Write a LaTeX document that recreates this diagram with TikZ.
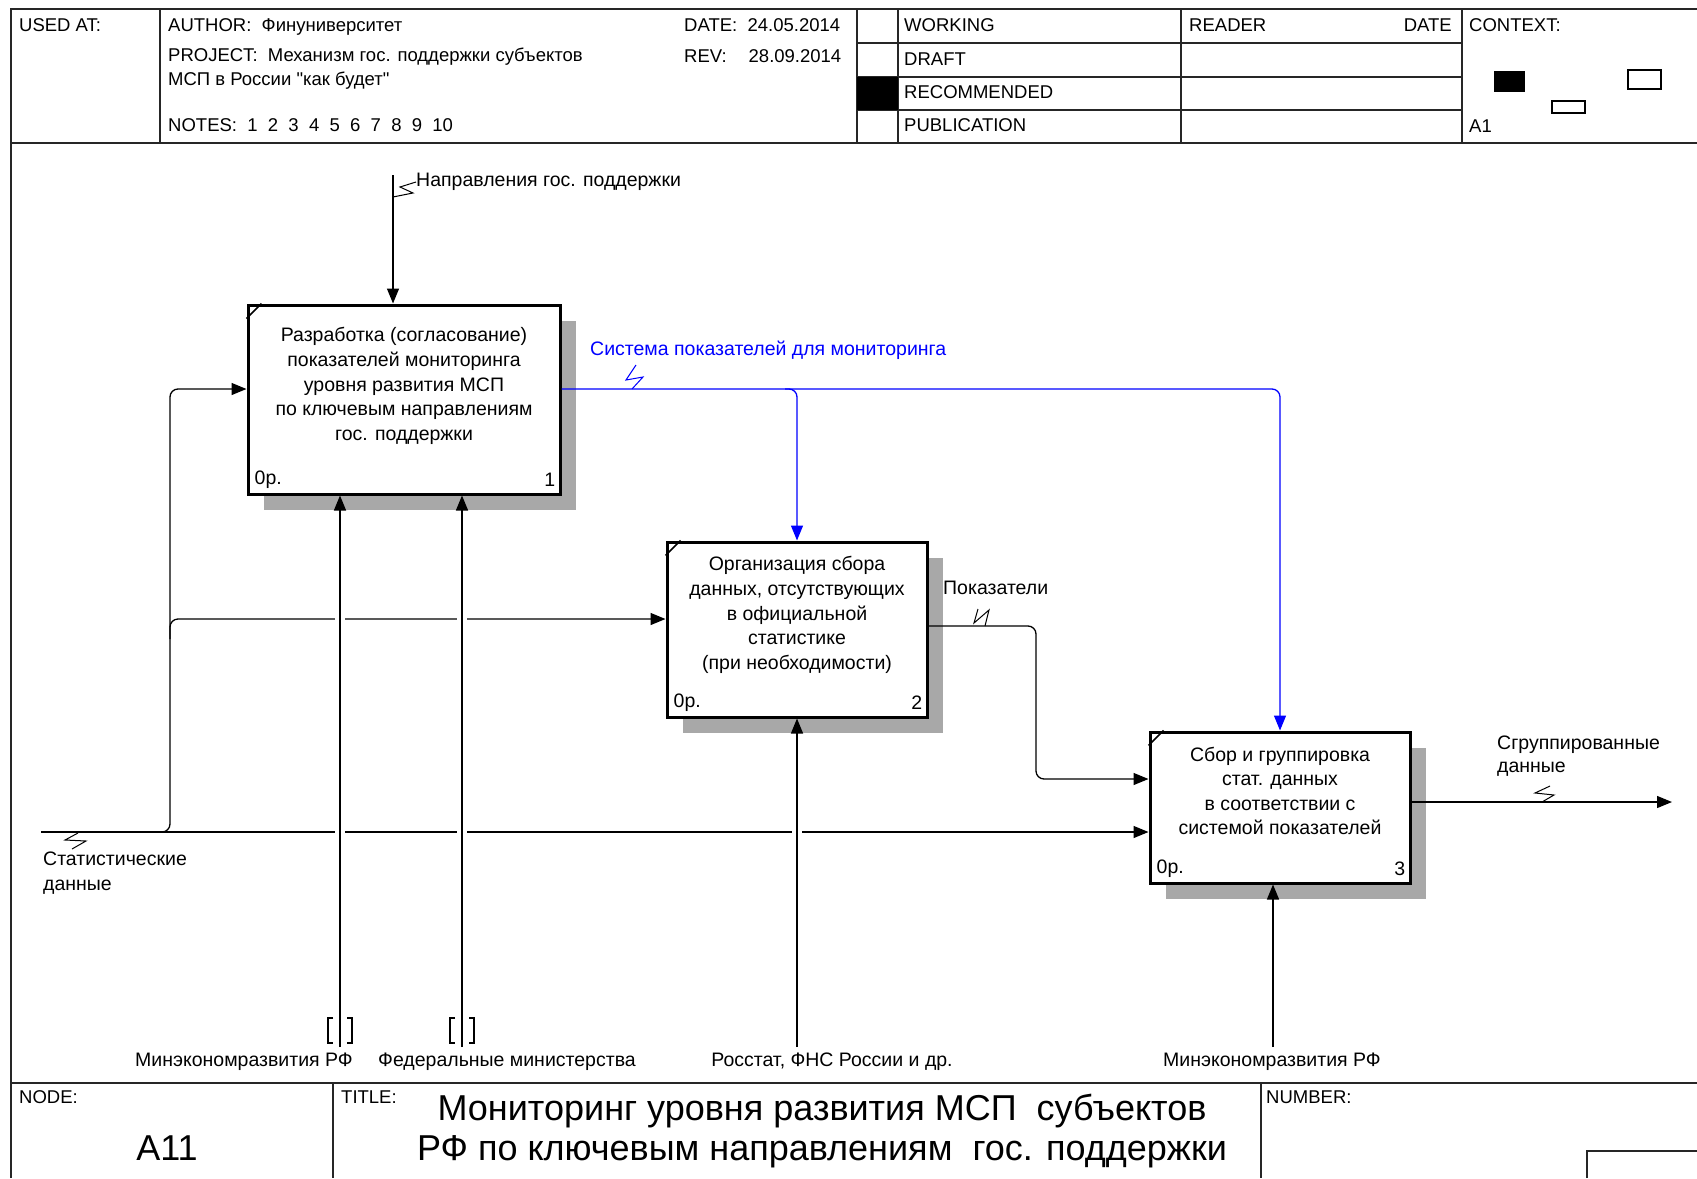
\documentclass[tikz,border=0pt]{standalone}
\usepackage{fontspec}
\setmainfont{Liberation Sans}[Ligatures=TeXOff]
\usetikzlibrary{arrows.meta,calc,shadows}
\definecolor{idefblue}{RGB}{0,0,255}
\definecolor{shadowgray}{RGB}{168,168,168}
\begin{document}
\begin{tikzpicture}[x=1pt,y=-1pt,
  frame/.style={line width=2pt, draw=black!85},
  func/.style={draw, line width=3pt, fill=white, inner sep=0pt,
    drop shadow={shadow xshift=16pt, shadow yshift=-16pt, fill=shadowgray, opacity=1}},
  arr/.style={draw, line width=1.3pt, -{Triangle[length=15pt,width=12pt]}},
  barr/.style={arr, draw=idefblue},
  gap/.style={draw=white, line width=4pt},
  sq/.style={draw, line width=1pt},
  lbl/.style={inner sep=0pt, font=\fontsize{19.5}{24.6}\selectfont},
  hdr/.style={inner sep=0pt, anchor=west, font=\fontsize{18.5}{22}\selectfont},
  big/.style={inner sep=0pt, font=\fontsize{36}{40}\selectfont}]
\useasboundingbox (0,0) rectangle (1697,1178);

% ---------- frame and header ----------
\draw[frame] (11,1178) -- (11,9) -- (1697,9);
\draw[frame] (11,143) -- (1697,143);
\foreach \x in {160,857,898,1181,1462} \draw[frame] (\x,9) -- (\x,143);
\foreach \y in {43,77,110} \draw[frame] (857,\y) -- (1462,\y);
\fill (857,77) rectangle (898,110);
\fill (1494,71) rectangle (1525,92);
\draw[line width=1.5pt] (1628,70) rectangle (1661,89);
\draw[line width=1.5pt] (1552,101) rectangle (1585,113);

\node[hdr] (usedat) at (19,25) {USED AT:};
\node[hdr] (author) at (168,27) {AUTHOR:\ \ Финуниверситет};
\node[hdr] (project) at (168,57) {PROJECT:\ \ Механизм гос. поддержки субъектов};
\node[hdr] (project2) at (168,81) {МСП в России "как будет"};
\node[hdr] (notes) at (168,125) {NOTES:\ \ 1\ \ 2\ \ 3\ \ 4\ \ 5\ \ 6\ \ 7\ \ 8\ \ 9\ \ 10};
\node[hdr] (date) at (684,25) {DATE:\ \ 24.05.2014};
\node[hdr] (rev) at (684,56) {REV:\hspace{22pt}28.09.2014};
\node[hdr] (working) at (904,25) {WORKING};
\node[hdr] (draft) at (904,59) {DRAFT};
\node[hdr] (recom) at (904,92) {RECOMMENDED};
\node[hdr] (publ) at (904,125) {PUBLICATION};
\node[hdr] (reader) at (1189,25) {READER};
\node[hdr, anchor=east] (rdate) at (1452,25) {DATE};
\node[hdr] (context) at (1469,25) {CONTEXT:};
\node[hdr] (a1) at (1469,126) {A1};

% ---------- footer ----------
\draw[frame] (11,1083) -- (1697,1083);
\draw[frame] (333,1083) -- (333,1178);
\draw[frame] (1261,1083) -- (1261,1178);
\draw[frame] (1587,1178) -- (1587,1151) -- (1697,1151);
\node[hdr] (nodel) at (19,1097) {NODE:};
\node[hdr] (titlel) at (341,1097) {TITLE:};
\node[hdr] (numberl) at (1266,1097) {NUMBER:};
\node[big] (nodenum) at (167,1148) {A11};
\node[big, align=center] (title) at (822,1131) {Мониторинг уровня развития МСП~ субъектов\\РФ по ключевым направлениям~ гос. поддержки};

% ---------- activity boxes ----------
\node[func, minimum width=312pt, minimum height=189pt] (b1) at (404,399.5) {};
\node[func, minimum width=260pt, minimum height=175pt] (b2) at (797,629.5) {};
\node[func, minimum width=260pt, minimum height=151pt] (b3) at (1280,807.5) {};

\node[lbl, align=center] (t1) at (404,386) {Разработка (согласование)\\показателей мониторинга\\уровня развития МСП\\по ключевым направлениям\\гос. поддержки};
\node[lbl, align=center] (t2) at (797,615) {Организация сбора\\данных, отсутствующих\\в официальной\\статистике\\(при необходимости)};
\node[lbl, align=center] (t3) at (1280,791) {Сбор и группировка\\стат. данных\\в соответствии с\\системой показателей};

\foreach \b/\n in {b1/1,b2/2,b3/3}{
  \draw[line width=1.5pt] ($(\b.north west)+(0,15)$) -- ($(\b.north west)+(15,0)$);
  \node[lbl, anchor=west] at ($(\b.south west)+(8,-16)$) {0р.};
  \node[lbl, anchor=east] at ($(\b.south east)+(-6,-16)$) {\n};
}

% ---------- coordinates ----------
\coordinate (c1) at (393,175);
\coordinate (sd) at (41,832);
\coordinate (j1) at (170,832);
\coordinate (i1) at (170,389);
\coordinate (i2) at (170,619);
\coordinate (k1) at (1036,626);
\coordinate (k2) at (1036,779);
\coordinate (o3end) at (1672,802);
\coordinate (m1) at (340,1047);
\coordinate (m2) at (462,1047);
\coordinate (m3) at (797,1047);
\coordinate (m4) at (1273,1047);
\coordinate (o1) at (b1.east |- i1);

% ---------- arrows ----------
\draw[arr] (c1) -- (c1 |- b1.north);
\draw[arr] (sd) -- (sd -| b3.west);
\draw[arr, rounded corners=8pt] ($(j1)+(-12,0)$) -- (j1) -- (i1) -- (i1 -| b1.west);
\draw[arr, rounded corners=8pt] ($(i2)+(0,20)$) -- (i2) -- (i2 -| b2.west);

\foreach \m in {m1,m2,m3} \draw[gap] ($(\m |- sd)+(-5,0)$) -- ($(\m |- sd)+(5,0)$);
\foreach \m in {m1,m2} \draw[gap] ($(\m |- i2)+(-5,0)$) -- ($(\m |- i2)+(5,0)$);

\draw[arr] (m1) -- (m1 |- b1.south);
\draw[arr] (m2) -- (m2 |- b1.south);
\draw[arr] (m3) -- (b2.south);
\draw[arr] (m4) -- (m4 |- b3.south);

\draw[barr, rounded corners=8pt] (o1) -- (o1 -| b3.north) -- (b3.north);
\draw[barr, rounded corners=8pt] ($(o1 -| b2.north)+(-12,0)$) -- (o1 -| b2.north) -- (b2.north);

\draw[arr, rounded corners=8pt] (b2.east |- k1) -- (k1) -- (k2) -- (k2 -| b3.west);
\draw[arr] (b3.east |- o3end) -- (o3end);

% tunnels
\foreach \m in {m1,m2}{
  \draw[line width=1.2pt] ($(\m)+(-7,-29)$) -- ++(-5,0) -- ++(0,25) -- ++(5,0);
  \draw[line width=1.2pt] ($(\m)+(7,-29)$) -- ++(5,0) -- ++(0,25) -- ++(-5,0);
}

% ---------- arrow labels ----------
\node[lbl, anchor=west] (nl) at (416,182) {Направления гос. поддержки};
\draw[sq] (nl.west) -- ++(-16,5) -- ++(13,6) -- ++(-20,4);

\node[lbl, anchor=west, text=idefblue] (bl) at (590,350) {Система показателей для мониторинга};
\coordinate (bq) at (632,389);
\draw[sq, draw=idefblue] (bq) -- ++(11,-12) -- ++(-17,3) -- ++(10,-15);

\node[lbl, anchor=west] (pl) at (943,588) {Показатели};
\coordinate (pq) at (985,626);
\draw[sq] (pq) -- ++(4,-16) -- ++(-15,13) -- ++(4,-14);

\node[lbl, anchor=west, align=left, font=\fontsize{19.5}{23}\selectfont] (gl) at (1497,756) {Сгруппированные\\данные};
\coordinate (gq) at (1542,802);
\draw[sq] (gq) -- ++(12,-7) -- ++(-19,-2) -- ++(15,-7);

\node[lbl, anchor=west, align=left, font=\fontsize{19.5}{25.5}\selectfont] (sl) at (43,873) {Статистические\\данные};
\coordinate (sq1) at (78,833);
\draw[sq] (sq1) -- ++(-13,7) -- ++(21,1) -- ++(-14,8);

\node[lbl] (ml1) at (244,1062) {Минэкономразвития РФ};
\node[lbl] (ml2) at (507,1062) {Федеральные министерства};
\node[lbl] (ml3) at (832,1062) {Росстат, ФНС России и др.};
\node[lbl] (ml4) at (1272,1062) {Минэкономразвития РФ};
\end{tikzpicture}
\end{document}
